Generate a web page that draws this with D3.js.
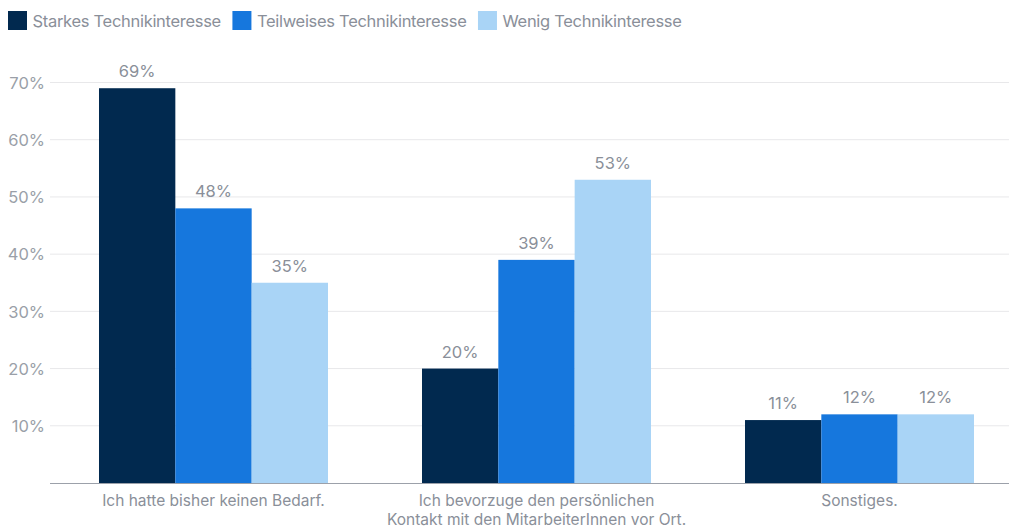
<!DOCTYPE html>
<html><head><meta charset="utf-8">
<script src="https://cdn.jsdelivr.net/npm/d3@7"></script>
<style>
html,body{margin:0;padding:0;background:#fff;}
svg{display:block;font-family:Inter,"Noto Sans",sans-serif;}
</style></head>
<body><svg id="chart" width="1009" height="526"></svg>
<script>
const categories = [["Ich hatte bisher keinen Bedarf."], ["Ich bevorzuge den persönlichen", "Kontakt mit den MitarbeiterInnen vor Ort."], ["Sonstiges."]];
const categoryKeys = ["Ich hatte bisher keinen Bedarf.", "Ich bevorzuge den persönlichen Kontakt mit den MitarbeiterInnen vor Ort.", "Sonstiges."];
const seriesNames = ["Starkes Technikinteresse", "Teilweises Technikinteresse", "Wenig Technikinteresse"];
const starkes = [69, 20, 11];
const teilweises = [48, 39, 12];
const wenig = [35, 53, 12];
const yTicks = [10, 20, 30, 40, 50, 60, 70];
const colors = ["#01294f", "#1677dd", "#a9d4f6"];

const seriesValues = [starkes, teilweises, wenig];
const svg = d3.select("#chart");
const textColor = "#8a8f99";
const y = d3.scaleLinear().domain([0, 70]).range([483, 82.5]);
const x0 = d3.scaleBand().domain(categoryKeys).range([52, 1021]).paddingInner(0.291).paddingOuter(0.1455);
const x1 = d3.scaleBand().domain(seriesNames).range([0, x0.bandwidth()]).padding(0);

// gridlines
const grid = svg.append("g");
grid.selectAll("line").data(yTicks).join("line")
  .attr("x1", 50).attr("x2", 1009)
  .attr("y1", d => y(d)).attr("y2", d => y(d))
  .attr("stroke", "#e8e8ea").attr("stroke-width", 1);

// y axis labels
const yAxis = d3.axisLeft(y).tickValues(yTicks).tickFormat(d => d + "%").tickSize(0).tickPadding(0);
const ya = svg.append("g").attr("transform", "translate(45,0)").call(yAxis);
ya.select(".domain").remove();
ya.selectAll("text").attr("fill", "#9a9fa8").attr("font-size", "16.5px").attr("font-family", "Inter, sans-serif").attr("dy", "0.35em");

// bars
const groups = svg.append("g").selectAll("g").data(categoryKeys).join("g")
  .attr("transform", d => `translate(${x0(d)},0)`);
groups.each(function(cat, ci) {
  const g = d3.select(this);
  seriesNames.forEach((s, si) => {
    const v = seriesValues[si][ci];
    g.append("rect").attr("x", x1(s)).attr("width", x1.bandwidth())
      .attr("y", y(v)).attr("height", y(0) - y(v)).attr("fill", colors[si]);
    g.append("text").attr("x", x1(s) + x1.bandwidth() / 2).attr("y", y(v) - 11)
      .attr("text-anchor", "middle").attr("fill", textColor).attr("font-size", "16.5px")
      .text(v + "%");
  });
});

// baseline
svg.append("line").attr("x1", 50).attr("x2", 1009).attr("y1", 483.5).attr("y2", 483.5)
  .attr("stroke", "#9ca1aa").attr("stroke-width", 1.2);

// x labels
const xa = svg.append("g");
categoryKeys.forEach((k, i) => {
  const t = xa.append("text").attr("x", x0(k) + x0.bandwidth() / 2).attr("y", 506)
    .attr("text-anchor", "middle").attr("fill", textColor).attr("font-size", "15.5px");
  categories[i].forEach((line, li) => {
    t.append("tspan").attr("x", x0(k) + x0.bandwidth() / 2).attr("dy", li === 0 ? 0 : 18.5).text(line);
  });
});

// legend (flow layout)
const lg = svg.append("g");
let lx = 8;
seriesNames.forEach((s, i) => {
  lg.append("rect").attr("x", lx).attr("y", 11).attr("width", 19).attr("height", 19).attr("fill", colors[i]);
  const t = lg.append("text").attr("x", lx + 24.5).attr("y", 27).attr("fill", textColor)
    .attr("font-size", "16.5px").attr("letter-spacing", "-0.3px").text(s);
  lx = lx + 24.5 + t.node().getComputedTextLength() + 11.5;
});
</script></body></html>
